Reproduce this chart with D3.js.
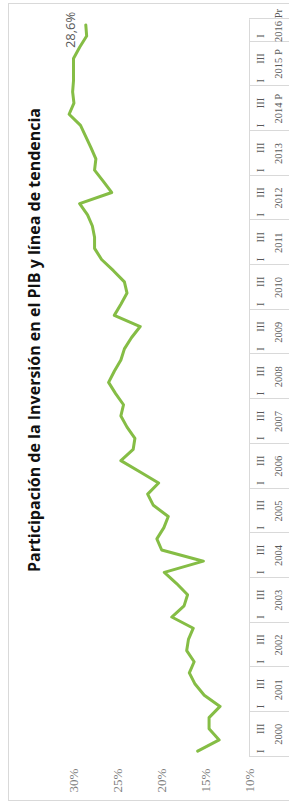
<!DOCTYPE html>
<html>
<head>
<meta charset="utf-8">
<script src="https://cdn.jsdelivr.net/npm/d3@7"></script>
<style>
  html, body { margin: 0; padding: 0; background: #fff; }
  svg { display: block; }
  .tick-label { font-family: "Liberation Serif", serif; font-size: 13px; fill: #7f7f7f; }
  .cat-label { font-family: "Liberation Serif", serif; font-size: 10.5px; fill: #595959; }
  .title { font-family: "Open Sans", sans-serif; font-weight: bold; font-size: 16px; fill: #111; }
  .data-label { font-family: "Open Sans", sans-serif; font-size: 13px; fill: #595959; }
</style>
</head>
<body>
<script>
(function() {
  // page is 289x802, the chart itself is drawn 802x289 and turned a quarter turn
  var pageW = 289;
  var pageH = 802;
  var width = 802;
  var height = 289;
  var plotLeft = 45.3;
  var plotRight = 782.7;
  var plotTop = 73.5;
  var plotBottom = 249;

  var title = 'Participación de la Inversión en el PIB y línea de tendencia';
  var yearLabels = ['2000', '2001', '2002', '2003', '2004', '2005', '2006', '2007', '2008',
    '2009', '2010', '2011', '2012', '2013', '2014 P', '2015 P', '2016 Pr'];
  var quarterLabels = ['I', '', 'III', ''];
  var yTicks = [10, 15, 20, 25, 30];
  // inversion / PIB, % per quarter, 2000-I .. 2016-II
  var investShare = [
    15.85, 13.4, 14.55, 14.55, 13.3, 15.1, 16.15, 16.8, 16.25, 17.1, 16.9, 16.35,
    18.8, 17.4, 17.0, 18.25, 19.65, 15.2, 19.95, 20.5, 19.7, 19.2, 20.9, 21.55,
    20.3, 22.45, 24.6, 23.2, 23.0, 23.9, 24.6, 24.3, 25.2, 26.0, 25.35, 24.6,
    24.2, 23.4, 22.4, 25.35, 24.6, 23.9, 24.2, 25.45, 26.8, 27.6, 27.6, 27.85,
    28.4, 29.3, 25.65, 26.6, 27.6, 27.45, 28.0, 28.6, 29.2, 30.5, 29.95, 30.1,
    30.0, 30.0, 30.0, 29.3, 28.5, 28.6
  ];
  var lastLabel = '28,6%';

  var svg = d3.select('body')
    .append('svg')
    .attr('width', pageW)
    .attr('height', pageH);

  var chart = svg.append('g')
    .attr('transform', `translate(0, ${pageH}) rotate(-90)`);

  // chart area border
  chart.append('rect')
    .attr('x', 1.5)
    .attr('y', 8.5)
    .attr('width', width - 5)
    .attr('height', height + 20)
    .attr('fill', 'none')
    .attr('stroke', '#d9d9d9');

  var xScale = d3.scaleBand()
    .domain(d3.range(investShare.length))
    .range([plotLeft, plotRight]);

  var yScale = d3.scaleLinear()
    .domain([10, 30])
    .range([plotBottom, plotTop]);

  // value labels
  chart.append('g')
    .selectAll('text')
    .data(yTicks)
    .join('text')
    .attr('class', 'tick-label')
    .attr('x', plotLeft - 12)
    .attr('y', d => yScale(d))
    .attr('dy', '0.35em')
    .attr('text-anchor', 'end')
    .text(d => d + '%');

  // category axis line
  chart.append('line')
    .attr('x1', plotLeft)
    .attr('x2', plotRight)
    .attr('y1', plotBottom + 0.5)
    .attr('y2', plotBottom + 0.5)
    .attr('stroke', '#d9d9d9');

  // year separators
  var bounds = yearLabels.map((d, i) => xScale(i * 4)).concat([plotRight]);
  chart.append('g')
    .selectAll('line')
    .data(bounds)
    .join('line')
    .attr('x1', d => Math.round(d) + 0.5)
    .attr('x2', d => Math.round(d) + 0.5)
    .attr('y1', plotBottom)
    .attr('y2', height + 20)
    .attr('stroke', '#d9d9d9');

  // quarter labels
  chart.append('g')
    .selectAll('text')
    .data(investShare.map((d, i) => i))
    .join('text')
    .attr('class', 'cat-label')
    .attr('x', i => xScale(i) + xScale.bandwidth() / 2)
    .attr('y', plotBottom + 11.5)
    .attr('dy', '0.35em')
    .attr('text-anchor', 'middle')
    .text(i => quarterLabels[i % 4]);

  // year labels
  chart.append('g')
    .selectAll('text')
    .data(yearLabels)
    .join('text')
    .attr('class', 'cat-label')
    .attr('x', (d, i) => (bounds[i] + bounds[i + 1]) / 2 + (i === yearLabels.length - 1 ? 5 : 0))
    .attr('y', plotBottom + 29)
    .attr('dy', '0.35em')
    .attr('text-anchor', 'middle')
    .text(d => d);

  // the series
  var line = d3.line()
    .x((d, i) => xScale(i) + xScale.bandwidth() / 2)
    .y(d => yScale(d));

  chart.append('path')
    .datum(investShare)
    .attr('d', line)
    .attr('fill', 'none')
    .attr('stroke', '#85bd45')
    .attr('stroke-width', 3)
    .attr('stroke-linejoin', 'round')
    .attr('stroke-linecap', 'round');

  var last = investShare.length - 1;
  chart.append('text')
    .attr('class', 'data-label')
    .attr('x', xScale(last) + xScale.bandwidth() / 2 - 5)
    .attr('y', yScale(investShare[last]) - 11)
    .attr('text-anchor', 'middle')
    .text(lastLabel);

  chart.append('text')
    .attr('class', 'title')
    .attr('x', 462)
    .attr('y', 40)
    .attr('text-anchor', 'middle')
    .text(title);
})();
</script>
</body>
</html>
